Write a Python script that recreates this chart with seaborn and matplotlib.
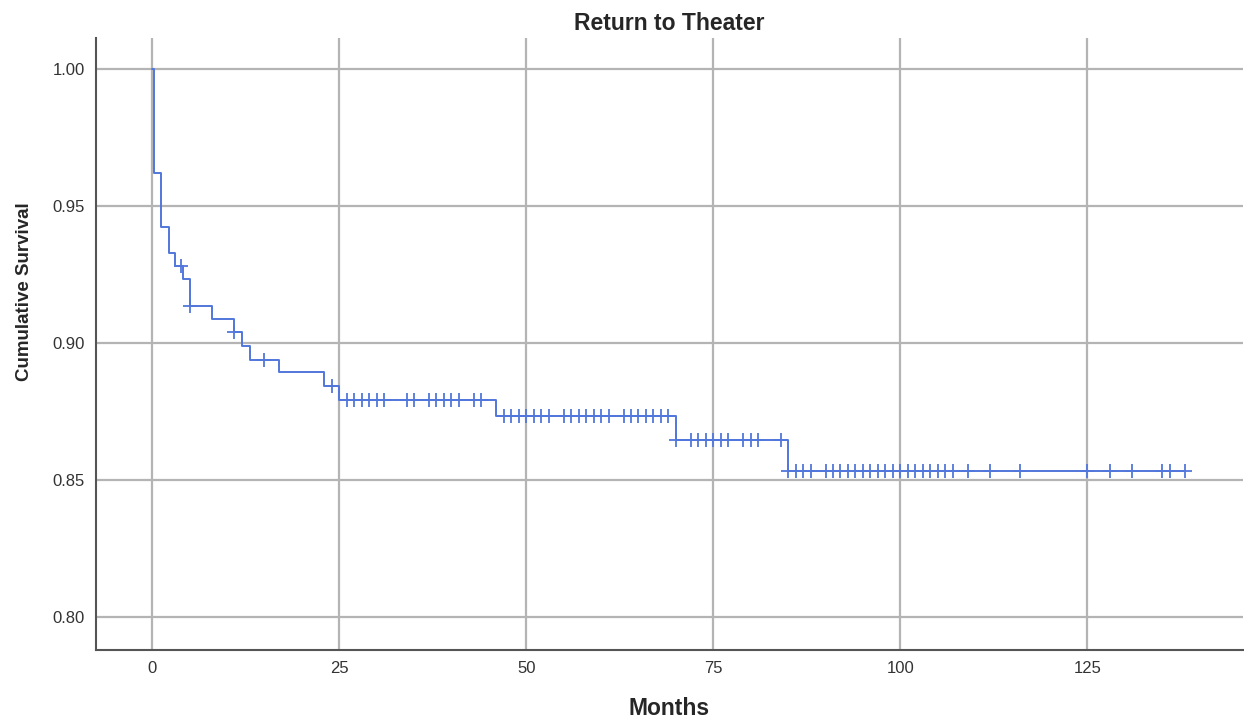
import numpy as np
import pandas as pd
import matplotlib
matplotlib.use('Agg')
import matplotlib.pyplot as plt
import seaborn as sns

# Kaplan-Meier steps (time of drop, survival after drop)
step_times = [0, 0.2, 1.2, 2.2, 3.1, 4.1, 5.0, 8.0, 10.9, 12.0, 13.1, 17.0, 23.0, 25.0, 46.0, 70.0, 85.0]
step_surv = [1.0, 0.962, 0.9425, 0.933, 0.928, 0.9234, 0.9136, 0.9088, 0.9039, 0.899, 0.894,
             0.8893, 0.8842, 0.8794, 0.8733, 0.8645, 0.8532]
end_time = 138.0

# censored observations (months)
censor_times = [3.8, 5, 11, 15, 24, 26, 27, 28, 29, 30, 31, 34, 35, 37, 38, 39, 40, 41, 43, 44,
                47, 48, 49, 50, 51, 52, 53, 55, 56, 57, 58, 59, 60, 61, 63, 64, 65, 66, 67, 68, 69,
                70, 72, 73, 74, 75, 76, 77, 79, 80, 81, 84,
                85, 86, 87, 88, 90, 91, 92, 93, 94, 95, 96, 97, 98, 99, 100, 101, 102, 103, 104,
                105, 106, 107, 109, 112, 116, 125, 128, 131, 135, 136, 138]

x_ticks = [0, 25, 50, 75, 100, 125]
y_ticks = [0.80, 0.85, 0.90, 0.95, 1.00]

line_color = '#5277dc'

curve = pd.DataFrame({'Months': step_times + [end_time],
                      'Survival': step_surv + [step_surv[-1]]})
idx = np.searchsorted(step_times, censor_times, side='right') - 1
censored = pd.DataFrame({'Months': censor_times,
                         'Survival': [step_surv[i] for i in idx]})

sns.set_style('white')
plt.rcParams['font.family'] = ['Liberation Sans', 'DejaVu Sans']

fig = plt.figure(figsize=(12.44, 7.2), dpi=100)
ax = fig.add_axes([0.0772, 0.0972, 0.922, 0.85])

sns.lineplot(data=curve, x='Months', y='Survival', drawstyle='steps-post',
             color=line_color, linewidth=1.4, ax=ax, zorder=3)
sns.scatterplot(data=censored, x='Months', y='Survival', marker='+', s=90,
                color=line_color, linewidth=1.3, ax=ax, zorder=4)

ax.set_xlim(-7.5, 145.8)
ax.set_ylim(0.788, 1.0113)
ax.set_xticks(x_ticks)
ax.set_yticks(y_ticks)
ax.set_yticklabels([f'{v:.2f}' for v in y_ticks])
ax.grid(True, color='#b4b4b4', linewidth=1.6)
ax.set_axisbelow(True)

for side in ['top', 'right']:
    ax.spines[side].set_visible(False)
for side in ['left', 'bottom']:
    ax.spines[side].set_color('#555555')
    ax.spines[side].set_linewidth(1.5)

ax.tick_params(axis='both', labelsize=12, labelcolor='#333333', length=0, pad=8)
ax.set_xlabel('Months', fontsize=16.5, fontweight='bold', labelpad=15)
ax.set_ylabel('Cumulative Survival', fontsize=13.5, fontweight='bold', labelpad=14, y=0.585)
ax.set_title('Return to Theater', fontsize=16.5, fontweight='bold', pad=6)

fig.savefig('out.png', dpi=100)
